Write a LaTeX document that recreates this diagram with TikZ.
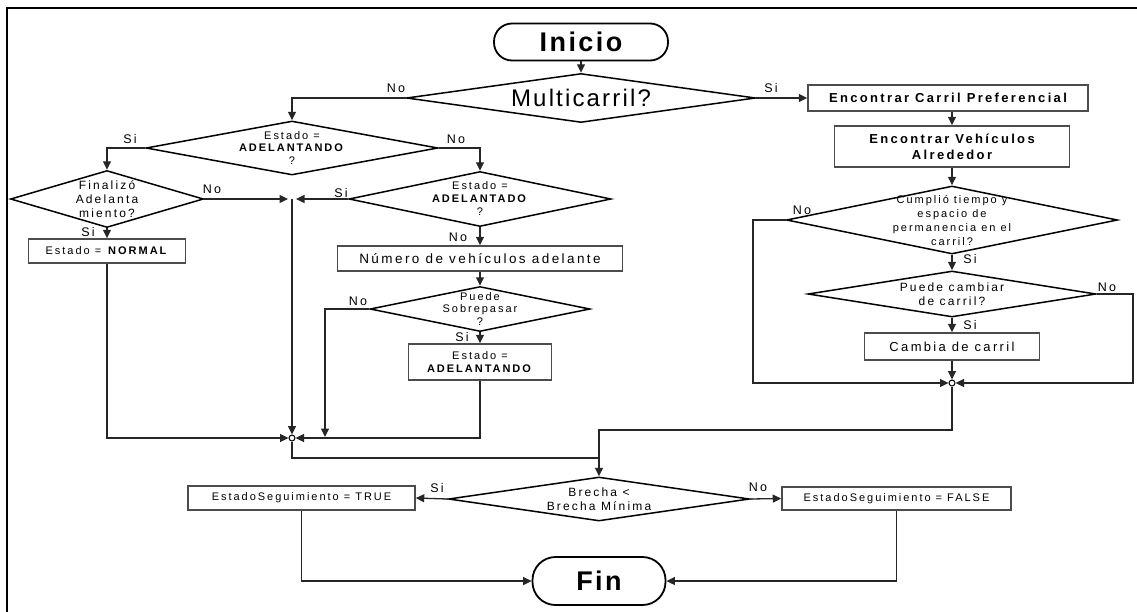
\documentclass[tikz,border=0pt]{standalone}
\usepackage{fontspec}
\setmainfont{Liberation Sans}
\newfontfamily\fbig[LetterSpace=9]{Liberation Sans}
\newfontfamily\fmed[LetterSpace=18]{Liberation Sans}
\usetikzlibrary{shapes.geometric,arrows.meta}
\newcommand\fsz[2]{\fontsize{#1}{#2}\selectfont}

\begin{document}
\begin{tikzpicture}[x=1pt,y=-1pt,
  ln/.style={line width=1.3pt,draw=black!85},
  arr/.style={ln,-{Triangle[length=8.5pt,width=8pt]}},
  dia/.style={diamond,draw=black,line width=1.5pt,inner sep=0pt},
  box/.style={rectangle,draw=black!70,line width=1.5pt,inner sep=0pt},
  term/.style={rectangle,draw=black,line width=1.8pt,inner sep=0pt},
  txt/.style={inner sep=0pt,align=center},
  lab/.style={inner sep=0pt,font=\fmed\fsz{12.5}{14}},
  jn/.style={circle,draw=black,line width=1pt,fill=white,minimum size=6pt,inner sep=0pt}]

\useasboundingbox (0,0) rectangle (1137,611);

% outer frame
\draw[line width=2.6pt] (7,625) -- (7,8) -- (1150,8);

% ---------- start and main decision
\node[term,minimum width=174pt,minimum height=37pt,rounded corners=18pt,
      font=\fbig\bfseries\fsz{27}{30}] (ini) at (581,42) {Inicio};
\node[dia,minimum width=349pt,minimum height=49pt] (mc) at (581,98) {};
\node[txt,font=\fbig\fsz{24}{28}] (mct) at (mc) {Multicarril?};

% ---------- left branch
\node[dia,minimum width=292pt,minimum height=54pt] (e1) at (292,148) {};
\node[txt,font=\fmed\fsz{11}{12.5}] (e1t) at (e1) {Estado =\\\textbf{ADELANTANDO}\\?};

\node[dia,minimum width=193pt,minimum height=57pt] (fa) at (107,199) {};
\node[txt,font=\fmed\fsz{12}{14}] (fat) at (fa) {Finalizó\\Adelanta\\miento?};

\node[box,minimum width=157pt,minimum height=24pt,font=\fmed\fsz{11}{13}] (nor) at (107,251)
  {Estado = \textbf{NORMAL}};

\node[dia,minimum width=262pt,minimum height=55pt] (e2) at (480,199) {};
\node[txt,font=\fmed\fsz{11}{13}] (e2t) at (e2) {Estado =\\\textbf{ADELANTADO}\\?};

\node[box,minimum width=285pt,minimum height=25pt,font=\fmed\fsz{13.5}{15}] (nv) at (480,258.5)
  {Número de vehículos adelante};

\node[dia,minimum width=220pt,minimum height=45pt] (ps) at (480,309) {};
\node[txt,font=\fmed\fsz{11}{12.5}] (pst) at (ps) {Puede\\Sobrepasar\\?};

\node[box,minimum width=143pt,minimum height=36pt,align=center,font=\fmed\fsz{11}{13}] (ea) at (480,362)
  {Estado =\\\textbf{ADELANTANDO}};

\node[jn] (c1) at (292,438) {};
\coordinate (j1) at (292,199);
\coordinate (pn) at (325,437);

% ---------- right branch
\node[box,minimum width=280pt,minimum height=26pt,font=\fmed\bfseries\fsz{13}{15}] (ecp) at (948,98)
  {Encontrar Carril Preferencial};
\node[box,minimum width=235pt,minimum height=41pt,align=center,font=\fmed\bfseries\fsz{13}{16}] (eva) at (952,146.5)
  {Encontrar Vehículos\\Alrededor};

\node[dia,minimum width=331pt,minimum height=68pt] (cu) at (952,220) {};
\node[txt,font=\fmed\fsz{11}{14}] (cut) at (cu) {Cumplió tiempo y\\espacio de\\permanencia en el\\carril?};

\node[dia,minimum width=288pt,minimum height=46pt] (pc) at (952,294) {};
\node[txt,font=\fmed\fsz{12}{14}] (pct) at (pc) {Puede cambiar\\de carril?};

\node[box,minimum width=175pt,minimum height=27pt,font=\fmed\fsz{13}{15}] (cc) at (952,346.5)
  {Cambia de carril};

\node[jn] (c2) at (952,383) {};
\coordinate (cl) at (753,220);
\coordinate (cr) at (1133,294);

% ---------- final decision
\coordinate (m1) at (599,458);
\coordinate (m2) at (599,430);
\node[dia,minimum width=301pt,minimum height=44pt] (br) at (599,499) {};
\node[txt,font=\fmed\fsz{12}{14}] (brt) at (br) {Brecha <\\Brecha Mínima};

\node[box,minimum width=227pt,minimum height=24pt,font=\fmed\fsz{11}{13}] (tru) at (301.5,498)
  {EstadoSeguimiento = TRUE};
\node[box,minimum width=229pt,minimum height=23pt,font=\fmed\fsz{11}{13}] (fal) at (896.5,498.5)
  {EstadoSeguimiento = FALSE};

\node[term,minimum width=133pt,minimum height=48pt,rounded corners=23pt,
      font=\fbig\bfseries\fsz{27}{30}] (fin) at (599,581) {Fin};

% ---------- connectors
\draw[arr] (ini.south) -- (mc.north);
\draw[arr] (mc.west) -| (e1.north);
\draw[arr] (mc.east) -- (ecp.west);

\draw[arr] (e1.west) -| (fa.north);
\draw[arr] (e1.east) -| (e2.north);
\draw[arr,shorten >=4pt] (fa.east) -- (j1);
\draw[arr,shorten >=4pt] (e2.west) -- (j1);
\draw[arr] (j1) -- (c1.north);
\draw[arr] (fa.south) -- (nor.north);
\draw[arr] (nor.south) |- (c1.west);
\draw[arr] (e2.south) -- (nv.north);
\draw[arr] (nv.south) -- (ps.north);
\draw[arr] (ps.west) -| (pn);
\draw[arr] (ps.south) -- (ea.north);
\draw[arr] (ea.south) |- (c1.east);

\draw[arr] (ecp.south -| eva.north) -- (eva.north);
\draw[arr] (eva.south) -- (cu.north);
\draw[arr] (cu.west) -- (cl) |- (c2.west);
\draw[arr] (cu.south) -- (pc.north);
\draw[arr] (pc.east) -- (cr) |- (c2.east);
\draw[arr] (pc.south) -- (cc.north);
\draw[arr] (cc.south) -- (c2.north);

\draw[ln] (c1.south) |- (m1);
\draw[arr] (c2.south) |- (m2) -- (br.north);

\draw[arr] (br.west) -- (tru.east);
\draw[arr] (br.east) -- (fal.west);
\draw[arr] (tru.south) |- (fin.west);
\draw[arr] (fal.south) |- (fin.east);

% ---------- branch labels
\node[lab] (l1) at (396,88) {No};
\node[lab] (l2) at (771,88) {Si};
\node[lab] (l3) at (130,139) {Si};
\node[lab] (l4) at (456,139) {No};
\node[lab] (l5) at (212,189) {No};
\node[lab] (l6) at (341,193) {Si};
\node[lab] (l7) at (88,232) {Si};
\node[lab] (l8) at (458,237) {No};
\node[lab] (l9) at (358,301) {No};
\node[lab] (l10) at (462,337) {Si};
\node[lab] (l11) at (802,210) {No};
\node[lab] (l12) at (970,259) {Si};
\node[lab] (l13) at (1107,287) {No};
\node[lab] (l14) at (970,325) {Si};
\node[lab] (l15) at (437,488) {Si};
\node[lab] (l16) at (758,487) {No};
\end{tikzpicture}
\end{document}
